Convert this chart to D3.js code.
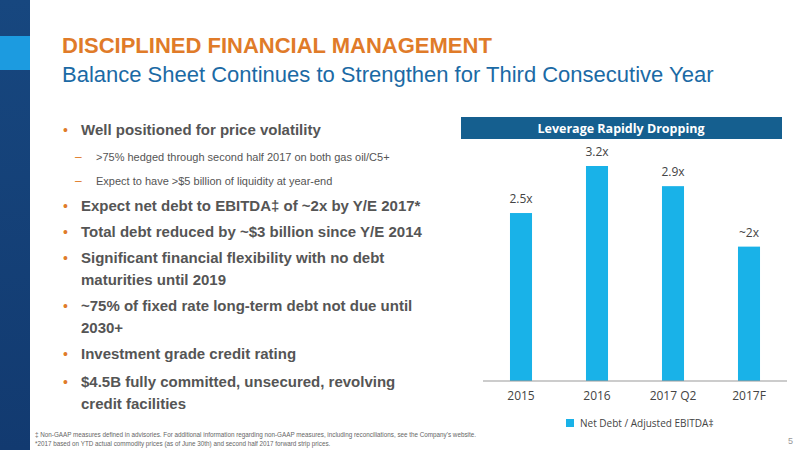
<!DOCTYPE html>
<html><head><meta charset="utf-8">
<script src="https://cdn.jsdelivr.net/npm/d3@7"></script>
<style>body{margin:0;background:#fff}svg{display:block}</style>
</head><body>
<svg id="c" width="800" height="450"></svg>
<script>
const categories = ["2015","2016","2017 Q2","2017F"];
const values = [2.5, 3.2, 2.9, 2.0];
const valueLabels = ["2.5x","3.2x","2.9x","~2x"];
const bullets = [
  {t:"Well positioned for price volatility", lvl:1, y:135},
  {t:">75% hedged through second half 2017 on both gas oil/C5+", lvl:2, y:161},
  {t:"Expect to have >$5 billion of liquidity at year-end", lvl:2, y:185},
  {t:"Expect net debt to EBITDA\u2021 of ~2x by Y/E 2017*", lvl:1, y:211},
  {t:"Total debt reduced by ~$3 billion since Y/E 2014", lvl:1, y:237},
  {t:"Significant financial flexibility with no debt", lvl:1, y:263},
  {t:"maturities until 2019", lvl:0, y:285},
  {t:"~75% of fixed rate long-term debt not due until", lvl:1, y:311},
  {t:"2030+", lvl:0, y:333},
  {t:"Investment grade credit rating", lvl:1, y:359},
  {t:"$4.5B fully committed, unsecured, revolving", lvl:1, y:387},
  {t:"credit facilities", lvl:0, y:409}
];
const svg = d3.select("#c");
const defs = svg.append("defs");
const g = defs.append("linearGradient").attr("id","lg").attr("x1",0).attr("x2",0).attr("y1",0).attr("y2",1);
g.append("stop").attr("offset","0").attr("stop-color","#17477f");
g.append("stop").attr("offset","1").attr("stop-color","#123a70");
svg.append("rect").attr("x",0).attr("y",0).attr("width",30).attr("height",450).attr("fill","url(#lg)");
svg.append("rect").attr("x",0).attr("y",36).attr("width",30).attr("height",34).attr("fill","#1c9be0");

svg.append("text").attr("x",62).attr("y",53).text("DISCIPLINED FINANCIAL MANAGEMENT")
  .attr("font-family","Liberation Sans, Arial").attr("font-weight","bold").attr("font-size",22).attr("fill","#e07b29");
svg.append("text").attr("x",62).attr("y",82).text("Balance Sheet Continues to Strengthen for Third Consecutive Year")
  .attr("font-family","Liberation Sans, Arial").attr("font-size",22).attr("fill","#1b6aa5");

bullets.forEach(b=>{
  if(b.lvl===1){
    svg.append("text").attr("x",63).attr("y",b.y).text("\u2022").attr("fill","#e07b29").attr("font-size",14).attr("font-family","Liberation Sans");
    svg.append("text").attr("x",81).attr("y",b.y).text(b.t).attr("fill","#555").attr("font-weight","bold")
      .attr("font-size",15).attr("font-family","Liberation Sans Narrow, Liberation Sans");
  } else if(b.lvl===2){
    svg.append("text").attr("x",75).attr("y",b.y).text("\u2013").attr("fill","#e07b29").attr("font-size",12).attr("font-family","Liberation Sans");
    svg.append("text").attr("x",96).attr("y",b.y).text(b.t).attr("fill","#555")
      .attr("font-size",11).attr("font-family","Liberation Sans Narrow, Liberation Sans");
  } else {
    svg.append("text").attr("x",81).attr("y",b.y).text(b.t).attr("fill","#555").attr("font-weight","bold")
      .attr("font-size",15).attr("font-family","Liberation Sans Narrow, Liberation Sans");
  }
});
svg.append("text").attr("x",35).attr("y",437).attr("font-size",6.3).attr("fill","#666").attr("font-family","Liberation Sans")
  .text("\u2021 Non-GAAP measures defined in advisories. For additional information regarding non-GAAP measures, including reconciliations, see the Company's website.");
svg.append("text").attr("x",35).attr("y",446).attr("font-size",6.3).attr("fill","#666").attr("font-family","Liberation Sans")
  .text("*2017 based on YTD actual commodity prices (as of June 30th) and second half 2017 forward strip prices.");
svg.append("text").attr("x",788).attr("y",444).attr("font-size",9).attr("fill","#999").attr("font-family","Liberation Sans").text("5");

// chart
svg.append("rect").attr("x",461).attr("y",117).attr("width",321).attr("height",22).attr("fill","#155f8f");
svg.append("text").attr("x",621).attr("y",133).attr("text-anchor","middle").attr("fill","#fff").attr("font-weight","bold")
  .attr("font-size",12.5).attr("font-family","Open Sans, Lato").text("Leverage Rapidly Dropping");

const x = d3.scaleBand().domain(categories).range([483,787]).paddingInner(0.71).paddingOuter(0.355);
const y = d3.scaleLinear().domain([0,3.2]).range([381,166]);
svg.selectAll(".bar").data(values).enter().append("rect")
  .attr("x",(d,i)=>x(categories[i])).attr("width",x.bandwidth())
  .attr("y",d=>y(d)).attr("height",d=>381-y(d)).attr("fill","#19b2e8");
svg.selectAll(".vl").data(values).enter().append("text")
  .attr("x",(d,i)=>x(categories[i])+x.bandwidth()/2).attr("y",d=>y(d)-10)
  .attr("text-anchor","middle").attr("font-size",12).attr("fill","#444").attr("font-family","Open Sans, Lato")
  .text((d,i)=>valueLabels[i]);
const ax = svg.append("g").attr("transform","translate(0,381)").call(d3.axisBottom(x).tickSize(0).tickPadding(10));
ax.select(".domain").attr("stroke","#999").attr("d","M483,0H787");
ax.selectAll("text").attr("font-size",12).attr("fill","#444").attr("font-family","Open Sans, Lato");
svg.append("rect").attr("x",566).attr("y",419).attr("width",8).attr("height",8).attr("fill","#19b2e8");
svg.append("text").attr("x",580).attr("y",427).attr("font-size",10).attr("fill","#444").attr("font-family","Open Sans, Lato")
  .text("Net Debt / Adjusted EBITDA\u2021");
</script>
</body></html>
